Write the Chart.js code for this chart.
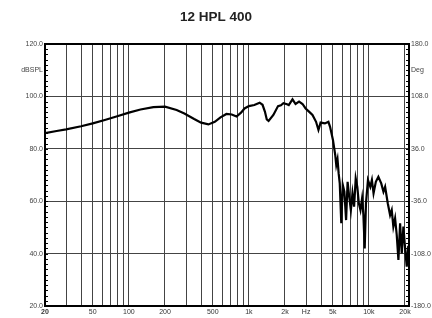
<!DOCTYPE html>
<html>
<head>
<meta charset="utf-8">
<script src="https://cdn.jsdelivr.net/npm/chart.js@4/dist/chart.umd.min.js"></script>
<style>
  body { margin: 0; background: #fff; }
  #wrap { width: 432px; height: 318px; position: relative; }
</style>
</head>
<body>
<div id="wrap"><canvas id="spl"></canvas></div>
<script>
// measured response, Hz / dB SPL
var freqs = [20, 25, 30, 40, 50, 63, 80, 100, 125, 160, 200, 250, 290, 350, 400, 460, 520, 580, 650, 720,
  790, 860, 920, 1000, 1110, 1230, 1300, 1360, 1410, 1460, 1600, 1750, 1850, 1940, 2080, 2150, 2310, 2450, 2620, 2800,
  2970, 3170, 3390, 3630, 3800, 3960, 4300, 4600, 4750, 5020, 5250, 5350, 5480, 5600, 5720, 5890, 6060, 6250, 6460, 6650,
  6860, 7080, 7300, 7530, 7770, 8010, 8250, 8510, 8780, 9000, 9230, 9460, 9830, 10280, 10600, 10940, 11430, 12000, 12680, 13230,
  13660, 14370, 15030, 15510, 16000, 16540, 17070, 17630, 18210, 18800, 19400, 20040, 20690, 21300];
var spl = [86.0, 86.8, 87.4, 88.6, 89.7, 91.0, 92.4, 93.8, 95.0, 95.9, 96.1, 94.8, 93.5, 91.4, 90.0, 89.3, 90.3, 92.0, 93.3, 93.1,
  92.3, 93.8, 95.4, 96.3, 96.7, 97.6, 96.8, 94.2, 91.2, 90.6, 92.9, 96.3, 96.6, 97.4, 97.0, 96.7, 98.9, 97.1, 98.0, 97.1,
  95.4, 94.2, 92.9, 90.3, 87.2, 90.0, 89.7, 90.3, 88.4, 83.4, 77.5, 73.8, 76.0, 70.6, 66.8, 51.6, 66.2, 63.6, 52.8, 67.4,
  61.7, 56.6, 63.0, 57.9, 68.7, 65.5, 59.2, 56.6, 61.1, 55.0, 42.0, 59.2, 68.1, 65.5, 68.1, 63.0, 67.4, 69.3, 66.8, 63.6,
  65.5, 59.2, 54.7, 56.6, 50.3, 53.5, 47.1, 37.6, 51.6, 40.1, 50.3, 42.0, 35.0, 43.0];

// axis ticks
var gridFreqs = [20, 30, 40, 50, 60, 70, 80, 90, 100, 200, 300, 400, 500, 600, 700, 800, 900,
  1000, 2000, 3000, 4000, 5000, 6000, 7000, 8000, 9000, 10000, 20000];
var freqLabels = { 20: '20', 50: '50', 100: '100', 200: '200', 500: '500', 1000: '1k', 2000: '2k',
  3000: 'Hz', 5000: '5k', 10000: '10k', 20000: '20k' };
var splTicks = [20, 40, 60, 80, 100, 110, 120];
var degTicks = [-180, -108, -36, 36, 108, 144, 180];

var fontFam = "'Liberation Sans', Arial, sans-serif";

var framePlugin = {
  id: 'frame',
  beforeDatasetsDraw: function (chart) {
    var ctx = chart.ctx;
    var a = chart.chartArea;
    var y = chart.scales.y;
    ctx.save();
    ctx.strokeStyle = '#000';
    ctx.lineWidth = 1;
    for (var v = 22; v < 120; v += 2) {
      var py = Math.round(y.getPixelForValue(v)) + 0.5;
      ctx.beginPath();
      ctx.moveTo(a.left, py);
      ctx.lineTo(a.left + 3, py);
      ctx.moveTo(a.right - 3, py);
      ctx.lineTo(a.right, py);
      ctx.stroke();
    }
    ctx.lineWidth = 2;
    ctx.strokeRect(a.left, a.top, a.right - a.left, a.bottom - a.top);
    ctx.restore();
  }
};

var points = freqs.map(function (f, i) { return { x: f, y: spl[i] }; });

new Chart(document.getElementById('spl'), {
  type: 'line',
  data: {
    datasets: [{
      data: points,
      borderColor: '#000',
      borderWidth: 2.2,
      pointRadius: 0,
      tension: 0,
      yAxisID: 'y'
    }]
  },
  options: {
    responsive: true,
    maintainAspectRatio: false,
    animation: false,
    layout: { padding: 0 },
    plugins: {
      legend: { display: false },
      tooltip: { enabled: false },
      title: {
        display: true,
        text: '12 HPL 400',
        color: '#222',
        font: { family: fontFam, size: 13.5, weight: 'bold' },
        padding: { top: 9, bottom: 18.8 }
      }
    },
    scales: {
      x: {
        type: 'logarithmic',
        min: 20,
        max: 21600,
        afterBuildTicks: function (scale) {
          scale.ticks = gridFreqs.map(function (v) { return { value: v }; });
        },
        afterFit: function (scale) { scale.height = 12; },
        ticks: {
          autoSkip: false,
          maxRotation: 0,
          padding: 2,
          color: '#333',
          font: function (c) {
            return { family: fontFam, size: 7, weight: c.tick && c.tick.value === 20 ? 'bold' : 'normal' };
          },
          callback: function (v) { return freqLabels[v] || ''; }
        },
        grid: { color: '#444', lineWidth: 1, drawTicks: false },
        border: { color: '#000', width: 2 }
      },
      y: {
        position: 'left',
        min: 20,
        max: 120,
        afterBuildTicks: function (scale) {
          scale.ticks = splTicks.map(function (v) { return { value: v }; });
        },
        afterFit: function (scale) { scale.width = 45; },
        ticks: {
          padding: 2,
          color: '#444',
          font: { family: fontFam, size: 7 },
          callback: function (v) { return v === 110 ? 'dBSPL' : v.toFixed(1); }
        },
        grid: {
          drawTicks: false,
          lineWidth: 1,
          color: function (c) { return c.tick && c.tick.value === 110 ? 'rgba(0,0,0,0)' : '#444'; }
        },
        border: { color: '#000', width: 2 }
      },
      y2: {
        position: 'right',
        min: -180,
        max: 180,
        afterBuildTicks: function (scale) {
          scale.ticks = degTicks.map(function (v) { return { value: v }; });
        },
        afterFit: function (scale) { scale.width = 23; },
        ticks: {
          padding: 2,
          color: '#444',
          font: { family: fontFam, size: 7 },
          callback: function (v) { return v === 144 ? 'Deg' : v.toFixed(1); }
        },
        grid: { drawOnChartArea: false, drawTicks: false },
        border: { color: '#000', width: 2 }
      }
    }
  },
  plugins: [framePlugin]
});
</script>
</body>
</html>
